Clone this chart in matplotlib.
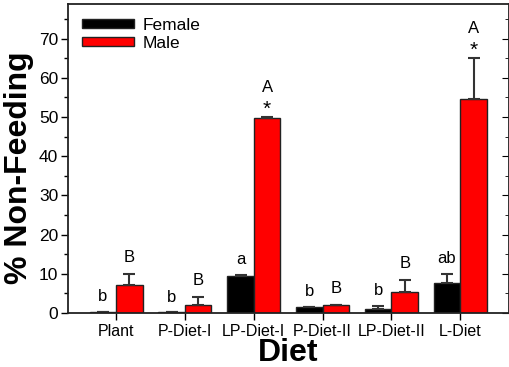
import numpy as np
import matplotlib.pyplot as plt
from matplotlib.ticker import MultipleLocator

plt.rcParams['font.family'] = ['Liberation Sans', 'DejaVu Sans']

# Dados
dietas = ['Plant', 'P-Diet-I', 'LP-Diet-I', 'P-Diet-II', 'LP-Diet-II', 'L-Diet']
femea = [0.3, 0.2, 9.5, 1.6, 1.0, 7.6]
femea_erro = [0.0, 0.0, 0.3, 0.0, 0.9, 2.4]
macho = [7.2, 2.0, 49.8, 2.0, 5.4, 54.5]
macho_erro = [2.8, 2.0, 0.2, 0.0, 3.1, 10.6]
letras_femea = ['b', 'b', 'a', 'b', 'b', 'ab']
letras_macho = ['B', 'B', 'A', 'B', 'B', 'A']
estrela_macho = [False, False, True, False, False, True]

x = np.arange(len(dietas))
larg = 0.385

fig = plt.figure(figsize=(5.1, 3.67), dpi=100)
ax = fig.add_axes([0.1333, 0.147, 0.865, 0.842])

ax.bar(x - larg / 2, femea, larg, color='black', edgecolor='#222222', linewidth=1, label='Female')
ax.bar(x + larg / 2, macho, larg, color='#ff0000', edgecolor='#222222', linewidth=1, label='Male')
ax.errorbar(x - larg / 2, femea, yerr=[np.zeros(len(x)), femea_erro], fmt='none',
            ecolor='#333333', elinewidth=1.5, capsize=4, capthick=1.5)
ax.errorbar(x + larg / 2, macho, yerr=[np.zeros(len(x)), macho_erro], fmt='none',
            ecolor='#333333', elinewidth=1.5, capsize=4, capthick=1.5)

# Letras de significância
for i in range(len(x)):
    topo_f = femea[i] + femea_erro[i]
    topo_m = macho[i] + macho_erro[i]
    ax.text(x[i] - larg / 2, topo_f + 3.8, letras_femea[i], ha='center', va='center', fontsize=12)
    if estrela_macho[i]:
        ax.text(x[i] + larg / 2, topo_m + 2.0, '*', ha='center', va='center', fontsize=15)
        ax.text(x[i] + larg / 2, topo_m + 7.5, letras_macho[i], ha='center', va='center', fontsize=12)
    else:
        ax.text(x[i] + larg / 2, topo_m + 4.2, letras_macho[i], ha='center', va='center', fontsize=12)

ax.set_xlim(-0.70, 5.71)
ax.set_ylim(0, 78.8)
ax.set_xticks(x)
ax.set_xticklabels(dietas, fontsize=11.5)
ax.yaxis.set_major_locator(MultipleLocator(10))
ax.yaxis.set_minor_locator(MultipleLocator(5))
ax.tick_params(axis='y', which='major', labelsize=12.5, length=5, width=1, direction='out', pad=2)
ax.tick_params(axis='y', which='minor', length=3, width=1, direction='out')
ax.tick_params(axis='x', length=5, width=1, direction='out', pad=3)

dir_ax = ax.secondary_yaxis('right')
dir_ax.yaxis.set_major_locator(MultipleLocator(10))
dir_ax.yaxis.set_minor_locator(MultipleLocator(5))
dir_ax.tick_params(which='major', direction='in', length=5, labelright=False)
dir_ax.tick_params(which='minor', direction='in', length=3)

for lado in ax.spines.values():
    lado.set_linewidth(1.3)
    lado.set_color('#222222')

ax.set_xlabel('Diet', fontsize=23, fontweight='bold', labelpad=-1)
ax.set_ylabel('% Non-Feeding', fontsize=23, fontweight='bold')
ax.yaxis.set_label_coords(-0.078, 0.47)

ax.legend(loc='upper left', frameon=False, fontsize=12.5, handlelength=3, handleheight=0.45,
          borderaxespad=0.4, labelspacing=0.15, handletextpad=0.5)

plt.savefig('out.png', dpi=100)
